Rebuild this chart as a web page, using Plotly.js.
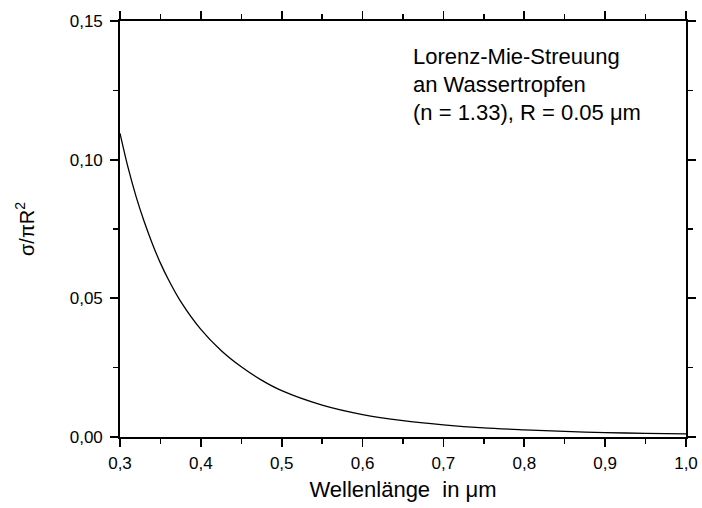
<!DOCTYPE html>
<html>
<head>
<meta charset="utf-8">
<script src="https://cdn.plot.ly/plotly-3.0.1.min.js"></script>
<style>html,body{margin:0;padding:0;background:#fff;}#chart{width:702px;height:508px;}</style>
</head>
<body>
<div id="chart"></div>
<script>
// Wavelength in micrometres
const wavelength = [0.30, 0.31, 0.32, 0.33, 0.34, 0.35, 0.36, 0.375, 0.40, 0.425, 0.45, 0.475, 0.50, 0.55, 0.60, 0.65, 0.70, 0.75, 0.80, 0.85, 0.90, 0.95, 1.00];
// Normalised scattering cross-section sigma / (pi R^2)
const sigmaNorm = [0.1095, 0.0971, 0.0866, 0.0776, 0.0697, 0.0627, 0.0567, 0.0489, 0.0388, 0.0312, 0.0253, 0.0205, 0.0167, 0.0115, 0.0081, 0.0059, 0.0044, 0.0033, 0.0026, 0.0020, 0.0016, 0.0013, 0.0011];

const annotationLines = ["Lorenz-Mie-Streuung", "an Wassertropfen", "(n = 1.33), R = 0.05 μm"];
const xTitle = "Wellenlänge\u00a0\u00a0in μm";
const yTitle = "σ/πR<sup>2</sup>";

const font = "Arial, 'Liberation Sans', sans-serif";

const trace = {
  x: wavelength,
  y: sigmaNorm,
  type: "scatter",
  mode: "lines",
  line: {color: "#000", width: 1.3, shape: "spline", smoothing: 0.8},
  hoverinfo: "skip"
};

const axisCommon = {
  showgrid: false,
  zeroline: false,
  showline: true,
  linecolor: "#000",
  linewidth: 1.8,
  mirror: "ticks",
  ticks: "outside",
  ticklen: 8,
  tickwidth: 1.8,
  tickcolor: "#000",
  tickfont: {family: font, size: 17, color: "#000"},
  fixedrange: true
};

const layout = {
  width: 702,
  height: 508,
  margin: {l: 120, r: 16, t: 21, b: 71},
  paper_bgcolor: "#fff",
  plot_bgcolor: "#fff",
  separators: ", ",
  showlegend: false,
  font: {family: font, color: "#000"},
  xaxis: Object.assign({}, axisCommon, {
    range: [0.3, 1.0],
    dtick: 0.1,
    tick0: 0.3,
    tickformat: ".1f",
    ticklabelstandoff: 2,
    minor: {dtick: 0.05, ticks: "outside", ticklen: 5, tickwidth: 1.5, tickcolor: "#000", showgrid: false},
    title: {text: xTitle, font: {family: font, size: 22, color: "#000"}, standoff: 9}
  }),
  yaxis: Object.assign({}, axisCommon, {
    range: [0, 0.15],
    dtick: 0.05,
    tick0: 0,
    tickformat: ".2f",
    ticklabelstandoff: 4,
    minor: {dtick: 0.025, ticks: "outside", ticklen: 5, tickwidth: 1.5, tickcolor: "#000", showgrid: false},
    title: {text: yTitle, font: {family: font, size: 20, color: "#000"}, standoff: 30}
  }),
  annotations: annotationLines.map((t, i) => ({
    text: t,
    xref: "paper", yref: "paper",
    x: (411 - 120) / 566, y: 1 - (56 + i * 28 - 21) / 416,
    xanchor: "left", yanchor: "middle",
    showarrow: false,
    font: {family: font, size: 22, color: "#000"},
    align: "left"
  }))
};

Plotly.newPlot("chart", [trace], layout, {displayModeBar: false, staticPlot: true});
</script>
</body>
</html>
